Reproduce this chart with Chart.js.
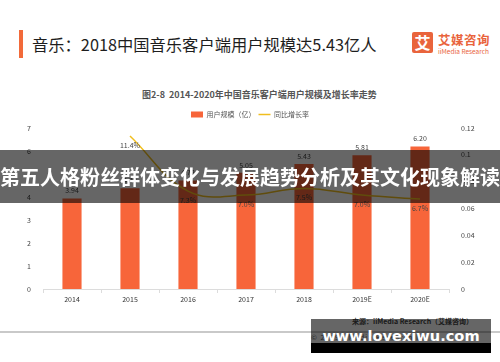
<!DOCTYPE html>
<html>
<head>
<meta charset="utf-8">
<script src="https://cdn.jsdelivr.net/npm/chart.js@4"></script>
<style>
  html, body { margin: 0; padding: 0; }
  body { width: 500px; height: 362px; position: relative; overflow: hidden; background: #fff;
         font-family: "Noto Sans CJK SC", "Noto Sans", sans-serif; }
  .abs { position: absolute; white-space: nowrap; }
  #mark { left: 19px; top: 30px; width: 4px; height: 28px; background: #F26A3A; }
  #title { left: 32px; top: 34px; font-size: 16.3px; line-height: 20px; color: #1e1e1e; }
  #logoBox { left: 412px; top: 32px; width: 21px; height: 21px; background: #E9643C; border-radius: 2px;
             color: #fff; font-size: 16px; font-weight: bold; line-height: 21px; text-align: center; }
  #logoCn { left: 438px; top: 32px; font-size: 12.5px; line-height: 16px; font-weight: bold; color: #E9643C; letter-spacing: 0.5px; }
  #logoEn { left: 438px; top: 47px; font-size: 6.5px; line-height: 8px; color: #E9643C; }
  #sub { left: 142px; top: 89px; font-size: 9px; line-height: 12px; font-weight: bold; color: #555; }
  #wrap { left: 0; top: 107px; width: 500px; height: 202px; }
  #src { left: 352px; top: 316px; font-size: 7px; line-height: 10px; color: #444; font-weight: bold; }
  #rule { left: 0; top: 331px; width: 500px; height: 2px; background: #c9c9c9; }
  #copy { left: 311px; top: 333px; font-size: 7px; line-height: 9px; color: #666; letter-spacing: 1px; }
  #banner { left: 0; top: 150px; width: 500px; height: 53px; background: rgba(0,0,0,0.6);
            color: #fff; font-size: 20px; font-weight: bold; line-height: 53px; }
  #wmTop { left: 311px; top: 319px; width: 180px; height: 24px; background: rgba(0,0,0,0.6); }
  #wmBot { left: 311px; top: 343px; width: 180px; height: 10px; background: #000; }
  #wmText { left: 311px; top: 325px; width: 180px; text-align: center; color: #fff;
            font-family: "DejaVu Sans", sans-serif; font-weight: bold; font-size: 14.6px; line-height: 22px; }
</style>
</head>
<body>
<div class="abs" id="mark"></div>
<div class="abs" id="title">音乐：2018中国音乐客户端用户规模达5.43亿人</div>
<div class="abs" id="logoBox">艾</div>
<div class="abs" id="logoCn">艾媒咨询</div>
<div class="abs" id="logoEn">iiMedia Research</div>
<div class="abs" id="sub">图2-8&nbsp;&nbsp;2014-2020年中国音乐客户端用户规模及增长率走势</div>
<div class="abs" id="wrap"><canvas id="chart"></canvas></div>
<div class="abs" id="src">来源：iiMedia Research（艾媒咨询）</div>
<div class="abs" id="rule"></div>
<div class="abs" id="copy">© 2019 iiMedia Research Inc</div>
<div class="abs" id="banner">第五人格粉丝群体变化与发展趋势分析及其文化现象解读</div>
<div class="abs" id="wmTop"></div>
<div class="abs" id="wmBot"></div>
<div class="abs" id="wmText">www.lovexiwu.com</div>

<script>
// 年份
const years = ['2014', '2015', '2016', '2017', '2018', '2019E', '2020E'];
// 用户规模（亿）
const users = [3.94, 4.38, 4.72, 5.05, 5.43, 5.81, 6.20];
// 同比增长率
const growth = [null, 0.114, 0.073, 0.070, 0.075, 0.070, 0.067];
// 坐标轴刻度
const leftTicks = [0, 1, 2, 3, 4, 5, 6, 7];
const rightTicks = [0, 0.02, 0.04, 0.06, 0.08, 0.1, 0.12];

const BAR_COLOR = '#F7653A';
const LINE_COLOR = '#F0BE1E';
const TICK_FONT = { family: '"Noto Sans CJK SC", sans-serif', size: 7 };

// 数据标签：柱子上方是数值，折线下方是百分比
const valueLabels = {
    id: 'valueLabels',
    afterDatasetsDraw(chart) {
        const ctx = chart.ctx;
        ctx.save();
        ctx.font = '7px "Noto Sans CJK SC", sans-serif';
        ctx.fillStyle = '#444';
        ctx.textAlign = 'center';
        ctx.textBaseline = 'middle';
        chart.getDatasetMeta(0).data.forEach((bar, i) => {
            ctx.fillText(users[i].toFixed(2), bar.x, bar.y - 8);
        });
        chart.getDatasetMeta(1).data.forEach((pt, i) => {
            if (growth[i] === null) return;
            ctx.fillText((growth[i] * 100).toFixed(1) + '%', pt.x, pt.y + 9);
        });
        ctx.restore();
    }
};

new Chart(document.getElementById('chart'), {
    data: {
        labels: years,
        datasets: [{
            type: 'bar',
            label: '用户规模（亿）',
            data: users,
            backgroundColor: BAR_COLOR,
            pointStyle: 'rect',
            yAxisID: 'y',
            categoryPercentage: 1,
            barPercentage: 0.33,
            order: 2
        }, {
            type: 'line',
            label: '同比增长率',
            data: growth,
            borderColor: LINE_COLOR,
            backgroundColor: LINE_COLOR,
            borderWidth: 1.5,
            pointRadius: 0,
            pointStyle: 'line',
            tension: 0.4,
            yAxisID: 'y1',
            order: 1
        }]
    },
    options: {
        responsive: true,
        maintainAspectRatio: false,
        animation: false,
        layout: { padding: { left: 0, right: 0, top: 1, bottom: 0 } },
        plugins: {
            legend: {
                position: 'top',
                labels: {
                    usePointStyle: true,
                    pointStyleWidth: 12,
                    boxHeight: 6,
                    padding: 3,
                    color: '#555',
                    font: { family: '"Noto Sans CJK SC", sans-serif', size: 7 },
                    sort: (a, b) => a.datasetIndex - b.datasetIndex
                }
            },
            tooltip: { enabled: false }
        },
        scales: {
            x: {
                offset: true,
                grid: { display: true, drawOnChartArea: false, drawTicks: true, tickLength: 4, color: '#dcdcdc', offset: true },
                border: { color: '#dcdcdc' },
                ticks: { color: '#333', font: TICK_FONT, padding: 2 },
                afterFit: s => { s.height = 20; }
            },
            y: {
                position: 'left',
                min: 0,
                max: 7,
                afterBuildTicks: s => { s.ticks = leftTicks.map(v => ({ value: v })); },
                grid: { display: false },
                border: { display: false },
                ticks: { color: '#444', font: TICK_FONT, padding: 4 },
                afterFit: s => { s.width = 43; }
            },
            y1: {
                position: 'right',
                min: 0,
                max: 0.12,
                afterBuildTicks: s => { s.ticks = rightTicks.map(v => ({ value: v })); },
                grid: { display: false },
                border: { display: false },
                ticks: {
                    color: '#444', font: TICK_FONT, padding: 4,
                    callback: v => (v === 0 ? '0' : String(+v.toFixed(2)))
                },
                afterFit: s => { s.width = 51; }
            }
        }
    },
    plugins: [valueLabels]
});
</script>
</body>
</html>
